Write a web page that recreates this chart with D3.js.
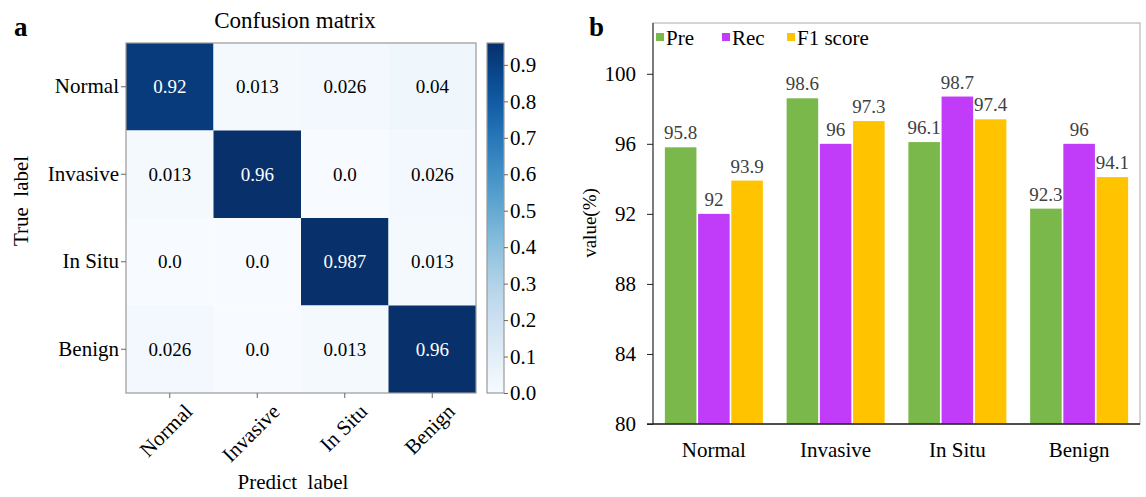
<!DOCTYPE html>
<html>
<head>
<meta charset="utf-8">
<script src="https://cdn.jsdelivr.net/npm/d3@7"></script>
<style>
  body { margin: 0; background: #fff; }
  text { font-family: "Liberation Serif", "Times New Roman", serif; }
</style>
</head>
<body>
<div id="content"></div>
<script>
// Data.
var classes = ["Normal", "Invasive", "In Situ", "Benign"];
var matrix = [
  [0.92, 0.013, 0.026, 0.04],
  [0.013, 0.96, 0.0, 0.026],
  [0.0, 0.0, 0.987, 0.013],
  [0.026, 0.0, 0.013, 0.96]
];
var cbarMax = 0.96;
var cbarTicks = [0.0, 0.1, 0.2, 0.3, 0.4, 0.5, 0.6, 0.7, 0.8, 0.9];

var seriesNames = ["Pre", "Rec", "F1 score"];
var pre = [95.8, 98.6, 96.1, 92.3];
var rec = [92, 96, 98.7, 96];
var f1 = [93.9, 97.3, 97.4, 94.1];
var barTicks = [80, 84, 88, 92, 96, 100];
var seriesColors = ["#7ab84b", "#c03cf8", "#ffc300"];

var svg = d3.select('#content')
              .append('svg')
              .attr('width', 1146)
              .attr('height', 497);

// ---------- Panel a: confusion matrix ----------
var cm = {left : 126, top : 43, size : 350};
var cx = d3.scaleBand().domain(classes).range([ cm.left, cm.left + cm.size ]);
var cy = d3.scaleBand().domain(classes).range([ cm.top, cm.top + cm.size ]);
var color = d3.scaleSequential(d3.interpolateBlues).domain([ 0, cbarMax ]).clamp(true);

var cells = [];
matrix.forEach(function(row, i) {
  row.forEach(function(v, j) { cells.push({r : classes[i], c : classes[j], v : v}); });
});

svg.append('g').selectAll('rect')
    .data(cells).enter().append('rect')
    .attr('x', function(d) { return cx(d.c); })
    .attr('y', function(d) { return cy(d.r); })
    .attr('width', cx.bandwidth())
    .attr('height', cy.bandwidth())
    .attr('fill', function(d) { return color(d.v); });

svg.append('g').selectAll('text')
    .data(cells).enter().append('text')
    .attr('x', function(d) { return cx(d.c) + cx.bandwidth() / 2; })
    .attr('y', function(d) { return cy(d.r) + cy.bandwidth() / 2; })
    .attr('dy', '0.35em')
    .attr('text-anchor', 'middle')
    .attr('font-size', 19)
    .attr('fill', function(d) { return d.v > cbarMax / 2 ? '#fff' : '#000'; })
    .text(function(d) { return d.v === 0 ? '0.0' : String(d.v); });

svg.append('rect')
    .attr('x', cm.left).attr('y', cm.top)
    .attr('width', cm.size).attr('height', cm.size)
    .attr('fill', 'none').attr('stroke', '#999').attr('stroke-width', 1.2);

var cyAxis = svg.append('g')
    .attr('transform', 'translate(' + cm.left + ',0)')
    .call(d3.axisLeft(cy).tickSize(5).tickPadding(2));
cyAxis.select('.domain').remove();
cyAxis.selectAll('line').attr('stroke', '#666');
cyAxis.selectAll('text').attr('font-size', 21).attr('fill', '#000')
    .style('font-family', '"Liberation Serif", serif');

var cxAxis = svg.append('g')
    .attr('transform', 'translate(0,' + (cm.top + cm.size) + ')')
    .call(d3.axisBottom(cx).tickSize(5).tickPadding(2));
cxAxis.select('.domain').remove();
cxAxis.selectAll('line').attr('stroke', '#666');
cxAxis.selectAll('text')
    .attr('font-size', 21).attr('fill', '#000')
    .style('font-family', '"Liberation Serif", serif')
    .attr('text-anchor', 'end')
    .attr('dy', '0.6em')
    .attr('transform', 'translate(10,6) rotate(-45)');

svg.append('text')
    .attr('x', cm.left + cm.size / 2 - 6).attr('y', 28)
    .attr('text-anchor', 'middle').attr('font-size', 23)
    .text('Confusion matrix');

svg.append('text')
    .attr('x', cm.left + cm.size / 2 - 8).attr('y', 489)
    .attr('text-anchor', 'middle').attr('font-size', 21)
    .attr('xml:space', 'preserve')
    .text('Predict  label');

svg.append('text')
    .attr('transform', 'translate(28,201) rotate(-90)')
    .attr('text-anchor', 'middle').attr('font-size', 21)
    .attr('xml:space', 'preserve')
    .text('True  label');

svg.append('text')
    .attr('x', 14).attr('y', 36)
    .attr('font-size', 27).attr('font-weight', 'bold')
    .text('a');

// Colorbar.
var cb = {left : 487, width : 17};
var cbY = d3.scaleLinear().domain([ 0, cbarMax ]).range([ cm.top + cm.size, cm.top ]);
var grad = svg.append('defs').append('linearGradient')
    .attr('id', 'cbar').attr('x1', 0).attr('y1', 1).attr('x2', 0).attr('y2', 0);
d3.range(0, 1.0001, 0.05).forEach(function(t) {
  grad.append('stop').attr('offset', t).attr('stop-color', d3.interpolateBlues(t));
});
svg.append('rect')
    .attr('x', cb.left).attr('y', cm.top)
    .attr('width', cb.width).attr('height', cm.size)
    .attr('fill', 'url(#cbar)')
    .attr('stroke', '#999').attr('stroke-width', 1.2);

var cbAxis = svg.append('g')
    .attr('transform', 'translate(' + (cb.left + cb.width) + ',0)')
    .call(d3.axisRight(cbY).tickValues(cbarTicks).tickFormat(d3.format('.1f'))
              .tickSize(4).tickPadding(2));
cbAxis.select('.domain').remove();
cbAxis.selectAll('line').attr('stroke', '#666');
cbAxis.selectAll('text').attr('font-size', 21).attr('fill', '#000')
    .style('font-family', '"Liberation Serif", serif');

// ---------- Panel b: grouped bars ----------
var bp = {left : 653, right : 1140, top : 23, bottom : 424};
var x0 = d3.scaleBand().domain(classes).range([ bp.left, bp.right ])
              .paddingInner(0.195).paddingOuter(0.0975);
var x1 = d3.scaleBand().domain(seriesNames).range([ 0, x0.bandwidth() ]).paddingInner(0.05);
var by = d3.scaleLinear().domain([ 80, 102.9 ]).range([ bp.bottom, bp.top ]);
var barColor = d3.scaleOrdinal().domain(seriesNames).range(seriesColors);

var series = [pre, rec, f1];
var bars = [];
classes.forEach(function(c, i) {
  seriesNames.forEach(function(s, k) { bars.push({c : c, s : s, v : series[k][i]}); });
});

// Plot frame (top and right, light gray).
svg.append('rect')
    .attr('x', bp.left).attr('y', bp.top)
    .attr('width', bp.right - bp.left).attr('height', bp.bottom - bp.top)
    .attr('fill', 'none').attr('stroke', '#aaa').attr('stroke-width', 1);

svg.append('g').selectAll('rect')
    .data(bars).enter().append('rect')
    .attr('x', function(d) { return x0(d.c) + x1(d.s); })
    .attr('y', function(d) { return by(d.v); })
    .attr('width', x1.bandwidth())
    .attr('height', function(d) { return by(80) - by(d.v); })
    .attr('fill', function(d) { return barColor(d.s); });

svg.append('g').selectAll('text')
    .data(bars).enter().append('text')
    .attr('x', function(d) { return x0(d.c) + x1(d.s) + x1.bandwidth() / 2; })
    .attr('y', function(d) { return by(d.v) - 8; })
    .attr('text-anchor', 'middle')
    .attr('font-size', 19)
    .attr('fill', '#404040')
    .text(function(d) { return String(d.v); });

var byAxis = svg.append('g')
    .attr('transform', 'translate(' + bp.left + ',0)')
    .call(d3.axisLeft(by).tickValues(barTicks).tickSize(6).tickSizeOuter(0).tickPadding(11));
byAxis.select('.domain').attr('d', 'M0,' + bp.top + 'V' + bp.bottom).attr('stroke', '#222');
byAxis.selectAll('line').attr('stroke', '#222');
byAxis.selectAll('text').attr('font-size', 21).attr('fill', '#000')
    .style('font-family', '"Liberation Serif", serif');

var bxAxis = svg.append('g')
    .attr('transform', 'translate(0,' + bp.bottom + ')')
    .call(d3.axisBottom(x0).tickSize(0).tickPadding(18));
bxAxis.select('.domain').attr('d', 'M' + (bp.left - 6) + ',0H' + bp.right)
    .attr('stroke', '#222').attr('stroke-width', 1.5);
bxAxis.selectAll('text').attr('font-size', 21).attr('fill', '#000')
    .style('font-family', '"Liberation Serif", serif');

svg.append('text')
    .attr('transform', 'translate(596,223) rotate(-90)')
    .attr('text-anchor', 'middle').attr('font-size', 19)
    .text('value(%)');

svg.append('text')
    .attr('x', 589).attr('y', 36)
    .attr('font-size', 27).attr('font-weight', 'bold')
    .text('b');

// Legend.
var legendX = [656, 722, 787];
var legend = svg.append('g').selectAll('g')
    .data(seriesNames).enter().append('g')
    .attr('transform', function(d, i) { return 'translate(' + legendX[i] + ',33)'; });
legend.append('rect')
    .attr('width', 8).attr('height', 8)
    .attr('fill', function(d) { return barColor(d); });
legend.append('text')
    .attr('x', 10).attr('y', 12)
    .attr('font-size', 21)
    .text(function(d) { return d; });
</script>
</body>
</html>
